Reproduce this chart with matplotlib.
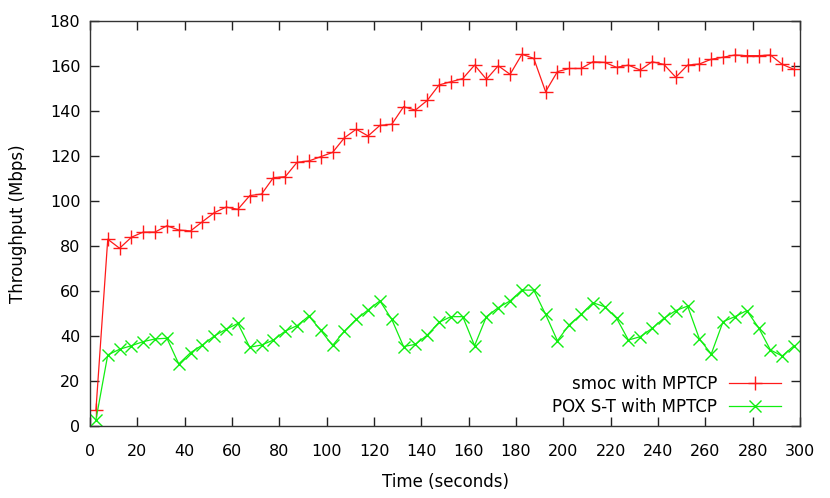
import numpy as np
import matplotlib
matplotlib.use("Agg")
from matplotlib import pyplot as plt

# sample times (seconds)
t = np.arange(2.5, 300, 5.0)

smoc = [7, 83.0, 79.0, 83.9, 86.2, 86.2, 89.0, 87.1, 86.7, 90.8,
        94.8, 97.3, 96.3, 102.4, 103.1, 110.4, 110.8, 117.2, 117.8, 119.7,
        121.6, 128.1, 131.9, 128.9, 133.6, 134.1, 141.9, 140.4, 144.7, 151.6,
        153.0, 154.4, 160.4, 154.1, 160.1, 156.3, 165.2, 163.4, 148.6, 157.5,
        158.9, 158.9, 161.9, 161.6, 159.4, 160.4, 158.2, 161.9, 160.7, 155.0,
        160.4, 160.9, 163.0, 163.9, 164.9, 164.6, 164.6, 164.9, 160.7, 158.5]

pox = [2.7, 31.6, 34.1, 35.7, 37.5, 38.7, 39.0, 27.6, 32.6, 36.0,
       40.0, 43.0, 45.6, 35.0, 36.0, 38.2, 42.2, 44.6, 48.9, 42.5,
       35.8, 42.2, 47.4, 51.6, 55.6, 47.4, 35.3, 36.3, 40.4, 46.1,
       48.6, 48.6, 35.7, 48.6, 52.6, 55.6, 60.4, 60.4, 49.6, 37.9,
       45.0, 49.6, 54.8, 53.0, 47.9, 38.2, 39.7, 43.4, 47.9, 51.3,
       53.3, 38.7, 32.0, 46.4, 48.6, 51.3, 43.7, 33.8, 31.1, 35.7]

xticks = np.arange(0, 301, 20)
yticks = np.arange(0, 181, 20)

plt.rcParams['font.family'] = ['DejaVu Sans']
plt.rcParams['font.size'] = 11

fig = plt.figure(figsize=(8.3, 4.98), dpi=100)
ax = fig.add_axes([90/830, 1-426/498, 710/830, 405/498])

ax.plot(t, smoc, color='#ff1a1a', lw=0.9, marker='+', ms=10, mew=1.0,
        label='smoc with MPTCP')
ax.plot(t, pox, color='#11ee11', lw=0.9, marker='x', ms=9, mew=1.0,
        label='POX S-T with MPTCP')

ax.set_xlim(0, 300)
ax.set_ylim(0, 180)
ax.set_xticks(xticks)
ax.set_yticks(yticks)
ax.tick_params(direction='in', top=True, right=True, length=6.5, width=1,
               color='#222222', labelsize=11.5)
ax.tick_params(axis='x', pad=13)
ax.tick_params(axis='y', pad=7)
for s in ax.spines.values():
    s.set_color('#333333')
    s.set_linewidth(1.0)

ax.set_xlabel('Time (seconds)', fontsize=12, labelpad=10)
ax.set_ylabel('Throughput (Mbps)', fontsize=12, labelpad=16)

ax.legend(loc='lower right', frameon=False, markerfirst=False,
          handlelength=3.1, handletextpad=0.7, borderaxespad=0.0,
          labelspacing=0.3, fontsize=12, bbox_to_anchor=(0.982, 0.008))

fig.savefig('out.png', dpi=100)
